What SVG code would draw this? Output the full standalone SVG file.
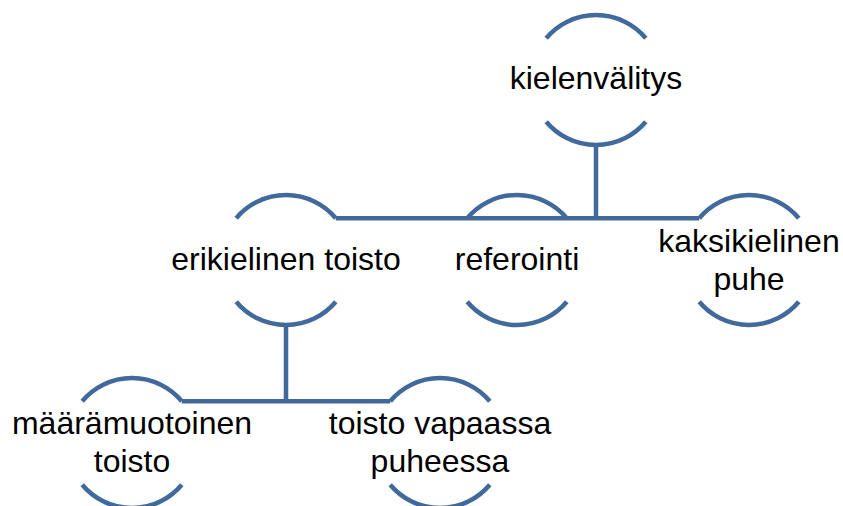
<svg xmlns="http://www.w3.org/2000/svg" width="843" height="506" viewBox="0 0 843 506">
<style>
.arc{fill:none;stroke:#41699c;stroke-width:4.5}
.con{fill:none;stroke:#41699c;stroke-width:4.5}
.t{font-family:"Liberation Sans",Arial,sans-serif;font-size:32px;fill:#000;text-anchor:middle}
</style>
<rect width="843" height="506" fill="#fff"/>
<g id="connectors">
<path class="con" d="M596 144V218.2M335.8 218.2H699.2"/>
<path class="con" d="M286 324V401.2M181.8 401.2H390.2"/>
</g>
<g id="n-kielenvalitys">
<path class="arc" d="M546.2 38.2A65 65 0 0 1 645.8 38.2M546.2 121.8A65 65 0 0 0 645.8 121.8"/>
<text class="t" x="596" y="89">kielenvälitys</text>
</g>
<g id="n-erikielinen">
<path class="arc" d="M236.2 218.2A65 65 0 0 1 335.8 218.2M236.2 301.8A65 65 0 0 0 335.8 301.8"/>
<text class="t" x="286" y="270">erikielinen toisto</text>
</g>
<g id="n-referointi">
<path class="arc" d="M467.2 218.2A65 65 0 0 1 566.8 218.2M467.2 301.8A65 65 0 0 0 566.8 301.8"/>
<text class="t" x="517" y="270">referointi</text>
</g>
<g id="n-kaksikielinen">
<path class="arc" d="M699.2 218.2A65 65 0 0 1 798.8 218.2M699.2 301.8A65 65 0 0 0 798.8 301.8"/>
<text class="t" x="749" y="252">kaksikielinen</text>
<text class="t" x="749" y="290">puhe</text>
</g>
<g id="n-maaramuotoinen">
<path class="arc" d="M82.2 401.2A65 65 0 0 1 181.8 401.2M82.2 484.8A65 65 0 0 0 181.8 484.8"/>
<text class="t" x="132" y="434">määrämuotoinen</text>
<text class="t" x="132" y="472">toisto</text>
</g>
<g id="n-vapaassa">
<path class="arc" d="M390.2 401.2A65 65 0 0 1 489.8 401.2M390.2 484.8A65 65 0 0 0 489.8 484.8"/>
<text class="t" x="440" y="434">toisto vapaassa</text>
<text class="t" x="440" y="472">puheessa</text>
</g>
</svg>
